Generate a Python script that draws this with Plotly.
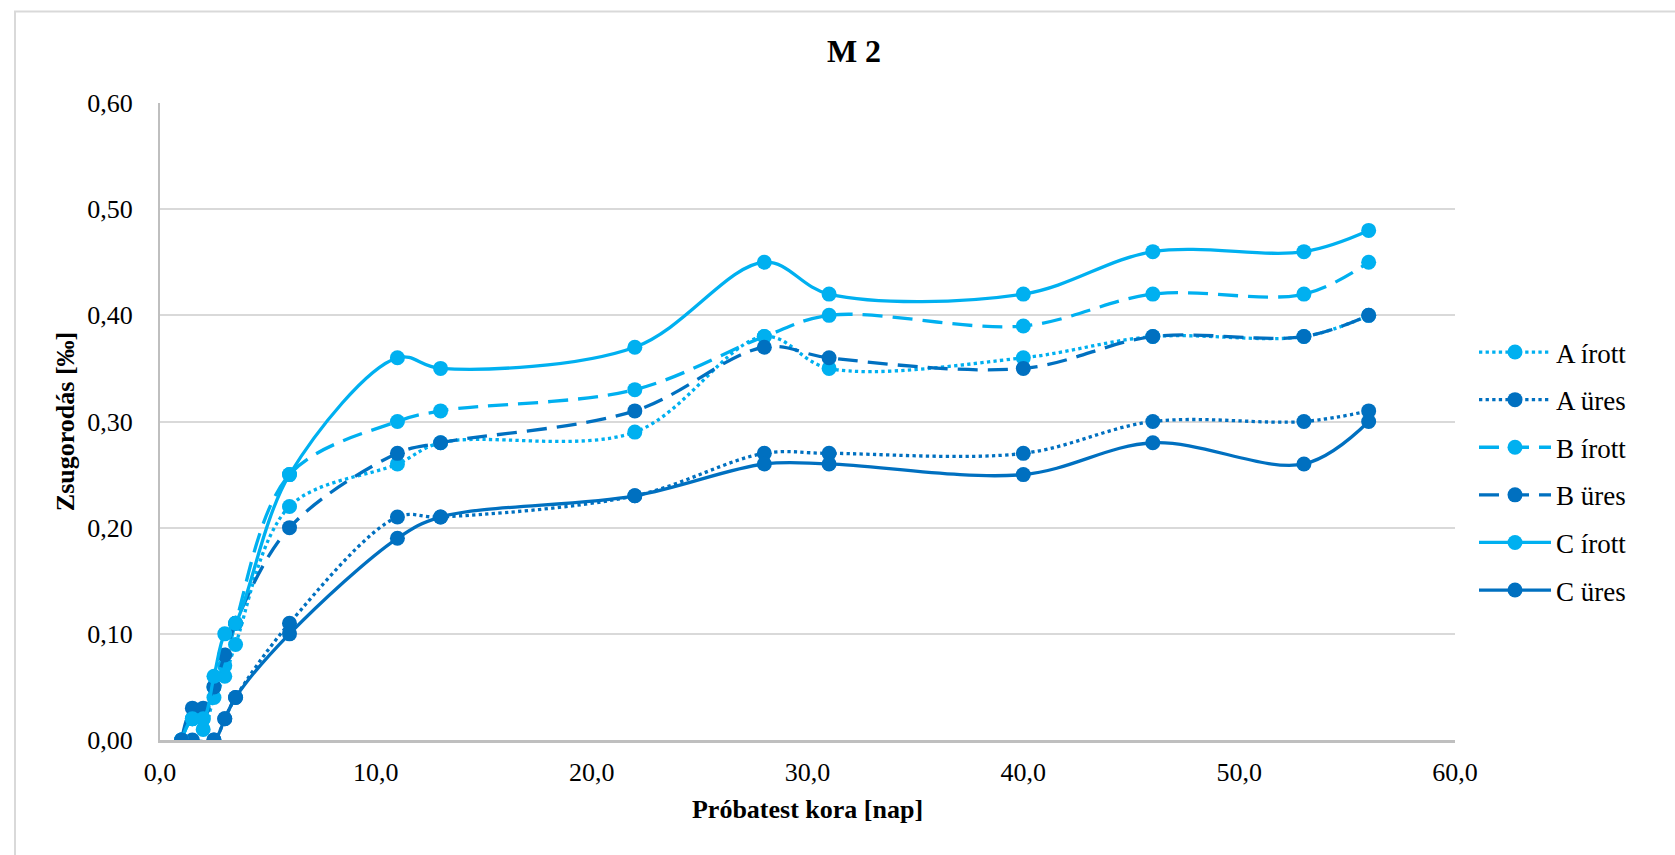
import plotly.graph_objects as go

# Specimen age in days (early readings are dense, later ones sparse)
days_full = [1, 1.5, 2, 2.5, 3, 3.5, 6, 11, 13, 22, 28, 31, 40, 46, 53, 56]
days_a_ures = [1.5, 2.5, 3, 3.5, 6, 11, 13, 22, 28, 31, 40, 46, 53, 56]
days_c_ures = [1, 2.5, 3, 3.5, 6, 11, 13, 22, 28, 31, 40, 46, 53, 56]

# Shrinkage values [‰]
a_irott = [0.00, 0.02, 0.01, 0.04, 0.06, 0.09, 0.22, 0.26, 0.28, 0.29, 0.38, 0.35, 0.36, 0.38, 0.38, 0.40]
a_ures = [0.00, 0.00, 0.02, 0.04, 0.11, 0.21, 0.21, 0.23, 0.27, 0.27, 0.27, 0.30, 0.30, 0.31]
b_irott = [0.00, 0.02, 0.02, 0.05, 0.07, 0.11, 0.25, 0.30, 0.31, 0.33, 0.38, 0.40, 0.39, 0.42, 0.42, 0.45]
b_ures = [0.00, 0.03, 0.03, 0.05, 0.08, 0.11, 0.20, 0.27, 0.28, 0.31, 0.37, 0.36, 0.35, 0.38, 0.38, 0.40]
c_irott = [0.00, 0.02, 0.02, 0.06, 0.10, 0.11, 0.25, 0.36, 0.35, 0.37, 0.45, 0.42, 0.42, 0.46, 0.46, 0.48]
c_ures = [0.00, 0.00, 0.02, 0.04, 0.10, 0.19, 0.21, 0.23, 0.26, 0.26, 0.25, 0.28, 0.26, 0.30]

LIGHT = "#00B0F0"
DARK = "#0070C0"
FONT = "Liberation Serif, Times New Roman, serif"

series = [
    ("A írott", days_full, a_irott, LIGHT, "dot"),
    ("A üres", days_a_ures, a_ures, DARK, "dot"),
    ("B írott", days_full, b_irott, LIGHT, "20px,10px"),
    ("B üres", days_full, b_ures, DARK, "20px,10px"),
    ("C írott", days_full, c_irott, LIGHT, "solid"),
    ("C üres", days_c_ures, c_ures, DARK, "solid"),
]

fig = go.Figure()
for i, (name, xs, ys, color, dash) in enumerate(series):
    fig.add_trace(go.Scatter(
        x=xs, y=ys, name=name, mode="lines+markers",
        line=dict(color=color, width=3.3, dash=dash, shape="spline", smoothing=1.0),
        marker=dict(color=color, size=15, symbol="circle"),
        legendgroup=f"g{i}",
    ))

# Light grey frame around the whole chart
fig.add_shape(type="rect", xref="paper", yref="paper",
              x0=(15 - 160) / 1295, x1=1.3, y0=-0.3, y1=(740 - 11) / 637.5,
              line=dict(color="#D9D9D9", width=2), fillcolor="rgba(0,0,0,0)", layer="below")

fig.update_layout(
    width=1675, height=855,
    margin=dict(l=160, r=220, t=102.5, b=115, autoexpand=False),
    paper_bgcolor="white", plot_bgcolor="white",
    separators=", ",
    font=dict(family=FONT, size=26, color="black"),
    title=dict(text="<b>M 2</b>", x=854 / 1675, xref="container", xanchor="center",
               y=1 - 51 / 855, yref="container", yanchor="middle",
               font=dict(family=FONT, size=32, color="black")),
    legend=dict(xref="container", yref="container", x=1474 / 1675, y=1 - 328 / 855,
                xanchor="left", yanchor="top", traceorder="grouped", tracegroupgap=9.5,
                font=dict(family=FONT, size=27, color="black"), itemwidth=72,
                bgcolor="rgba(0,0,0,0)"),
    xaxis=dict(range=[0, 60], dtick=10, tick0=0, tickformat=".1f",
               showgrid=False, zeroline=False, showline=True, linecolor="#BFBFBF", linewidth=3,
               ticks="", ticklabelstandoff=7, automargin=False,
               title=dict(text="<b>Próbatest kora [nap]</b>", standoff=14,
                          font=dict(family=FONT, size=26, color="black"))),
    yaxis=dict(range=[0, 0.6], dtick=0.1, tick0=0, tickformat=".2f",
               showgrid=True, gridcolor="#D9D9D9", gridwidth=2, zeroline=False,
               showline=True, linecolor="#BFBFBF", linewidth=2,
               ticks="", ticklabelstandoff=20, automargin=False,
               title=dict(text="<b>Zsugorodás [‰]</b>", standoff=5,
                          font=dict(family=FONT, size=26, color="black"))),
)

fig.write_html("out.html")
